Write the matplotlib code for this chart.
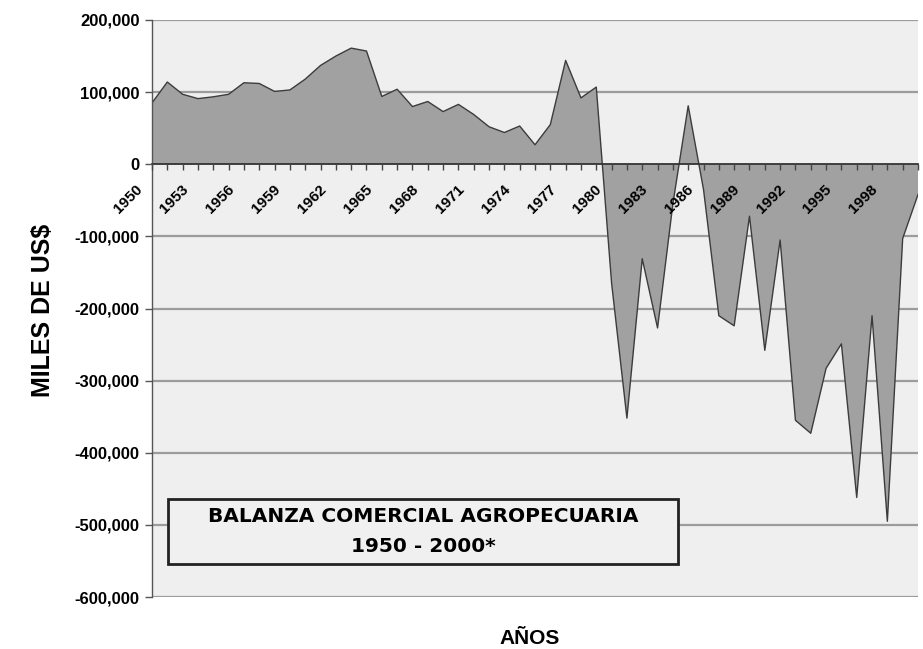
import matplotlib
matplotlib.use("Agg")
import matplotlib.pyplot as plt
from matplotlib.patches import Rectangle
from matplotlib.transforms import ScaledTranslation

# datos: balanza comercial agropecuaria (miles de US$)
years = list(range(1950, 2001))
balance = [85000, 114000, 97000, 91000, 93500, 97000, 113000, 112000, 101000, 103000,
           118000, 137000, 150000, 161000, 157000, 94000, 104000, 80000, 87000, 73000,
           83000, 69000, 52000, 44000, 53000, 27000, 55000, 144000, 92000, 107000,
           -165000, -352000, -131000, -227000, -55000, 81000, -35000, -210000, -224000, -72000,
           -258000, -105000, -355000, -373000, -283000, -249000, -462000, -210000, -495000, -103000,
           -42000]

y_ticks = [200000, 100000, 0, -100000, -200000, -300000, -400000, -500000, -600000]
y_labels = ["200,000", "100,000", "0", "-100,000", "-200,000", "-300,000",
            "-400,000", "-500,000", "-600,000"]
label_years = [y for y in years if (y - 1950) % 3 == 0 and y < 2000]

title_lines = ["BALANZA COMERCIAL AGROPECUARIA", "1950 - 2000*"]

plt.rcParams['font.family'] = ['Liberation Sans', 'DejaVu Sans']

fig = plt.figure(figsize=(9.23, 6.49), dpi=100)
fig.patch.set_facecolor('white')
ax = fig.add_axes([152 / 923, 1 - 597 / 649, (918 - 152) / 923, (597 - 20) / 649])
ax.set_facecolor('#efefef')
ax.set_axisbelow(False)

# rejilla (detras del area)
for yv in y_ticks:
    if yv != 0:
        ax.axhline(yv, color='#9c9c9c', lw=1.6, zorder=0.5)

ax.fill_between(years, balance, 0, facecolor='#a1a1a1', edgecolor='none', zorder=1)
ax.plot(years, balance, color='#3c3c3c', lw=1.0, zorder=1.2)

ax.set_xlim(1950, 2000)
ax.set_ylim(-600000, 200000)

for s in ['top', 'right']:
    ax.spines[s].set_visible(False)
ax.spines['bottom'].set_position(('data', 0))
ax.spines['bottom'].set_color('#333333')
ax.spines['bottom'].set_linewidth(1.3)
ax.spines['left'].set_color('#555555')
ax.spines['left'].set_linewidth(1.0)

ax.set_yticks(y_ticks)
ax.set_yticklabels(y_labels, fontsize=12, fontweight='bold')
ax.tick_params(axis='y', length=5, width=1, color='#555555', pad=4)

ax.set_xticks(years)
ax.set_xticklabels([str(y) if y in label_years else '' for y in years],
                   rotation=45, ha='right', va='top', fontsize=11, fontweight='bold')
ax.tick_params(axis='x', length=4, width=1, color='#444444', pad=9)
shift = ScaledTranslation(-0.07, 0, fig.dpi_scale_trans)
for lab in ax.get_xticklabels():
    lab.set_transform(lab.get_transform() + shift)

fig.text(43 / 923, 1 - 310 / 649, 'MILES DE US\\$', fontsize=18, fontweight='bold',
         rotation=90, ha='center', va='center')
fig.text(530 / 923, 1 - 638 / 649, 'AÑOS', fontsize=15, fontweight='bold',
         ha='center', va='center')

# recuadro del titulo
box = Rectangle((168 / 923, 1 - 564 / 649), (678 - 168) / 923, (564 - 499) / 649,
                transform=fig.transFigure, facecolor='#f0f0f0', edgecolor='#222222',
                lw=2, zorder=5)
fig.patches.append(box)
fig.text(423 / 923, 1 - 517 / 649, title_lines[0], fontsize=14.5, fontweight='bold',
         family='DejaVu Sans', ha='center', va='center', zorder=6)
fig.text(423 / 923, 1 - 547 / 649, title_lines[1], fontsize=14.5, fontweight='bold',
         family='DejaVu Sans', ha='center', va='center', zorder=6)

fig.savefig('out.png', dpi=100)
